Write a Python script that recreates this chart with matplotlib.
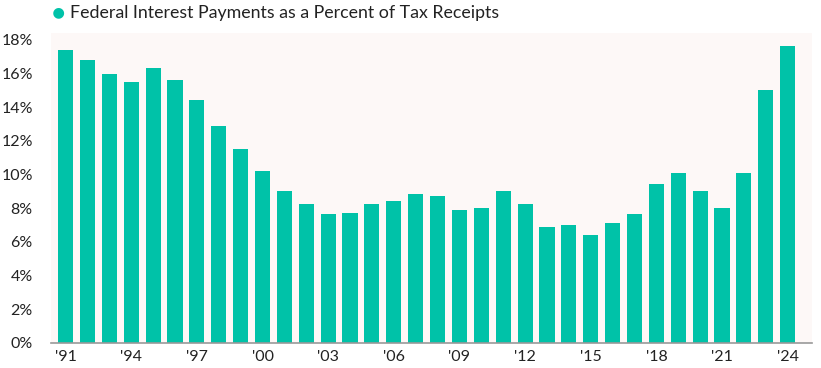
import numpy as np
import matplotlib.pyplot as plt

# Data
years = list(range(1991, 2025))
pct = [17.4, 16.8, 16.0, 15.5, 16.3, 15.6, 14.4, 12.9, 11.5, 10.2,
       9.05, 8.25, 7.65, 7.7, 8.25, 8.45, 8.85, 8.75, 7.9, 8.0,
       9.05, 8.25, 6.9, 7.0, 6.4, 7.1, 7.65, 9.45, 10.1, 9.05,
       8.0, 10.1, 15.0, 17.65]
tick_years = list(range(1991, 2025, 3))
legend_label = "Federal Interest Payments as a Percent of Tax Receipts"

BAR_COLOR = "#00c2a8"
BG_COLOR = "#fdf8f7"
TEXT_COLOR = "#222222"

plt.rcParams['font.family'] = ['Lato', 'DejaVu Sans']

fig = plt.figure(figsize=(8.21, 3.68), dpi=100)
ax = fig.add_axes([0.062, 0.068, 0.927, 0.842])
ax.set_facecolor(BG_COLOR)

x = np.arange(len(years))
ax.bar(x, pct, width=0.69, color=BAR_COLOR, zorder=2)

ax.set_xlim(-0.67, len(years) - 1 + 1.11)
ax.set_ylim(0, 18.4)
ax.set_yticks(range(0, 19, 2))
ax.set_yticklabels(["{}%".format(v) for v in range(0, 19, 2)])
ax.set_xticks([years.index(y) for y in tick_years])
ax.set_xticklabels(["'{:02d}".format(y % 100) for y in tick_years])

for s in ["top", "right", "left"]:
    ax.spines[s].set_visible(False)
ax.spines["bottom"].set_color("#999999")
ax.spines["bottom"].set_linewidth(1.2)
ax.tick_params(axis="both", length=0, labelsize=11.5, colors=TEXT_COLOR)
ax.tick_params(axis="y", pad=13)
ax.tick_params(axis="x", pad=5)

# Legend at the top
fig.text(0.0706, 0.965, "\u25CF", color=BAR_COLOR, fontsize=16, ha="center", va="center")
fig.text(0.085, 0.965, legend_label, color=TEXT_COLOR, fontsize=12.8, ha="left", va="center")

fig.savefig("out.png", dpi=100)
